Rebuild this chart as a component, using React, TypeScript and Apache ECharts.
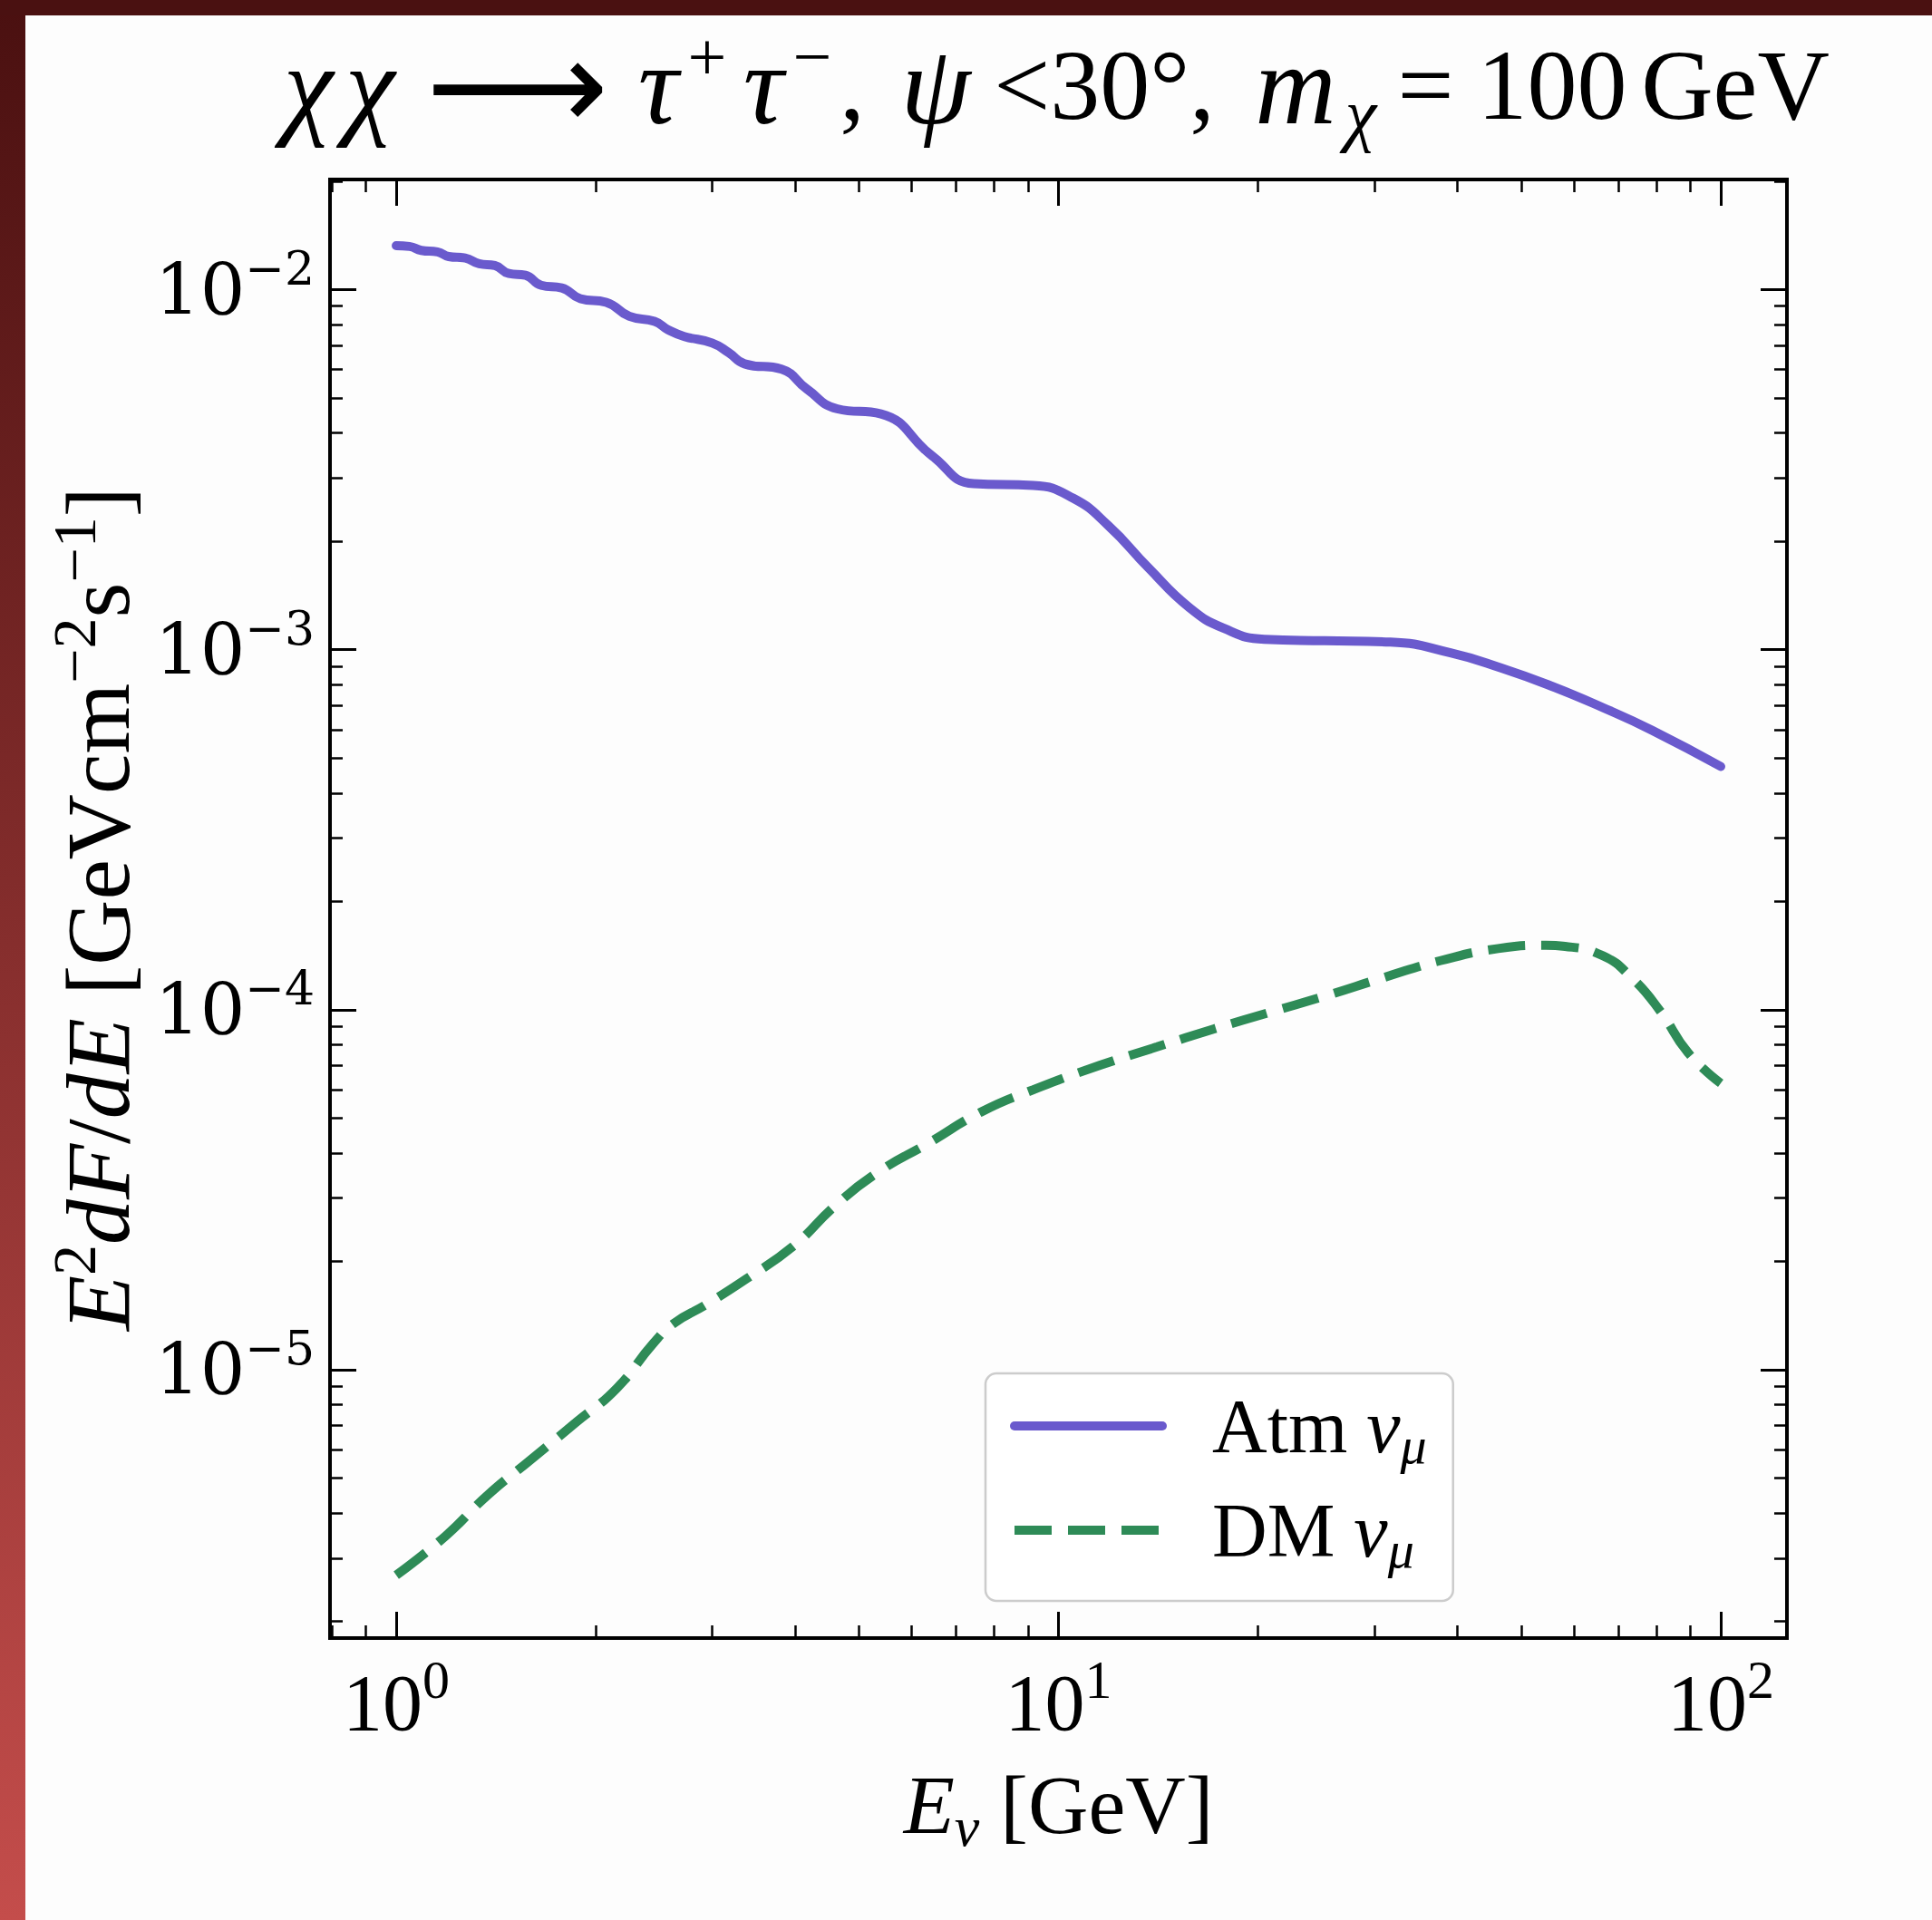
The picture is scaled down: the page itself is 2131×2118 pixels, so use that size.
import React, { useEffect, useRef } from "react";
import * as echarts from "echarts";

// Atmospheric muon-neutrino background, E^2 dF/dE [GeV cm^-2 s^-1]
const atmEnergy = [1.0, 1.047, 1.091, 1.154, 1.2, 1.271, 1.334, 1.409, 1.479, 1.567, 1.656, 1.778, 1.897, 2.075, 2.249, 2.455, 2.576, 2.723, 2.999, 3.177, 3.357, 3.819, 4.169, 4.635, 5.395, 6.442, 7.447, 9.162, 10.52, 11.89, 13.68, 15.74, 17.78, 20.46, 25.23, 31.7, 39.08, 46.67, 55.46, 66.22, 78.7, 100];
const atmFlux = [0.013243, 0.013183, 0.012853, 0.012735, 0.012359, 0.012246, 0.011803, 0.011668, 0.011092, 0.010965, 0.01028, 0.010116, 0.009441, 0.009226, 0.008433, 0.008166, 0.007727, 0.007413, 0.007112, 0.006683, 0.006223, 0.006012, 0.005297, 0.004667, 0.004519, 0.003459, 0.002891, 0.002858, 0.002636, 0.002213, 0.001687, 0.001312, 0.001146, 0.001069, 0.001059, 0.00105, 0.00098, 0.000889, 0.000793, 0.000692, 0.000598, 0.000474];

// Dark-matter signal, chi chi -> tau+ tau-, m_chi = 100 GeV
const dmEnergy = [1.0, 1.186, 1.371, 1.585, 1.866, 2.153, 2.443, 2.63, 2.931, 3.388, 3.981, 4.603, 5.321, 6.383, 7.638, 9.162, 11.56, 14.09, 17.18, 20.94, 25.47, 31.05, 37.84, 46.13, 54.45, 58.21, 66.37, 73.28, 80.91, 89.33, 100];
const dmFlux = [2.69e-6, 3.45e-6, 4.47e-6, 5.57e-6, 7.13e-6, 8.89e-6, 1.183e-5, 1.349e-5, 1.514e-5, 1.795e-5, 2.208e-5, 2.858e-5, 3.524e-5, 4.276e-5, 5.2e-5, 5.998e-5, 7.015e-5, 7.889e-5, 8.851e-5, 9.863e-5, 1.0965e-4, 1.2303e-4, 1.3709e-4, 1.4791e-4, 1.5101e-4, 1.4997e-4, 1.4125e-4, 1.2303e-4, 9.954e-5, 7.586e-5, 6.252e-5];

const seriesNames = ["Atm \u03bd\u03bc", "DM \u03bd\u03bc"];
const legendPrefixes = ["Atm", "DM"];
const xMajorTicks = [1, 10, 100];
const yMajorTicks = [1e-5, 1e-4, 1e-3, 1e-2];

const SERIF = "'Liberation Serif', 'DejaVu Serif', serif";
const WIDE_SERIF = "'DejaVu Serif', 'Liberation Serif', serif";
const INK = "#000000";
const ATM_COLOR = "#6a5acd";
const DM_COLOR = "#2e8b57";

const X_MIN = Math.pow(10, -0.1);
const X_MAX = Math.pow(10, 2.1);
const Y_MIN = Math.pow(10, -5.745);
const Y_MAX = Math.pow(10, -1.694);

// 2..9 x 10^n inside [lo, hi]
function minorLogTicks(lo: number, hi: number): number[] {
  const out: number[] = [];
  for (let e = Math.floor(Math.log10(lo)); e <= Math.ceil(Math.log10(hi)); e++) {
    for (let k = 2; k <= 9; k++) {
      const v = k * Math.pow(10, e);
      if (v >= lo && v <= hi) out.push(v);
    }
  }
  return out;
}

const powLabel = (v: number) => {
  const p = Math.round(Math.log10(v));
  return `{b|10}{e|${p < 0 ? "\u2212" + -p : p}}`;
};

const xTickRich = {
  b: { fontFamily: SERIF, fontSize: 88, lineHeight: 110, color: INK },
  e: { fontFamily: SERIF, fontSize: 60, lineHeight: 80, verticalAlign: "top", color: INK },
};

const yTickRich = {
  b: { fontFamily: WIDE_SERIF, fontSize: 78, lineHeight: 100, color: INK },
  e: { fontFamily: WIDE_SERIF, fontSize: 52, lineHeight: 66, verticalAlign: "top", color: INK },
};

const xNameRich = {
  i: { fontFamily: SERIF, fontStyle: "italic", fontSize: 92, lineHeight: 110, color: INK },
  r: { fontFamily: SERIF, fontSize: 92, lineHeight: 110, color: INK },
  sub: { fontFamily: SERIF, fontStyle: "italic", fontSize: 62, lineHeight: 40, verticalAlign: "bottom", color: INK },
};

const yNameRich = {
  i: { fontFamily: SERIF, fontStyle: "italic", fontSize: 100, lineHeight: 120, color: INK },
  r: { fontFamily: SERIF, fontSize: 100, lineHeight: 120, color: INK },
  sup: { fontFamily: SERIF, fontSize: 68, lineHeight: 78, verticalAlign: "top", color: INK },
};

// Title pieces: [text, style, box width]
type Piece = [string, string, number];
const titlePieces: Piece[] = [
  ["\u03c7", "i", 68],
  ["\u03c7", "i", 68],
  [" ", "r", 47],
  ["\u27f6", "a", 163],
  [" ", "r", 43],
  ["\u03c4", "i", 62],
  ["+", "sup", 46],
  [" ", "r", 8],
  ["\u03c4", "i", 62],
  ["\u2212", "sup", 46],
  [" ", "r", 8],
  [",", "r", 26],
  [" ", "r", 40],
  ["\u03c8", "i", 78],
  [" ", "r", 22],
  ["<30\u00b0,", "r", 250],
  [" ", "r", 40],
  ["m", "i", 92],
  ["\u03c7", "sub", 52],
  [" ", "r", 8],
  ["=", "r", 75],
  [" ", "r", 22],
  ["100", "r", 160],
  [" ", "r", 22],
  ["GeV", "r", 200],
];

const titleStyles: Record<string, any> = {
  i: { fontFamily: SERIF, fontStyle: "italic", fontSize: 124, lineHeight: 140, fill: INK },
  r: { fontFamily: SERIF, fontSize: 110, lineHeight: 140, fill: INK },
  a: { fontFamily: "'DejaVu Sans', sans-serif", fontSize: 140, lineHeight: 140, fill: INK },
  sup: { fontFamily: SERIF, fontSize: 76, lineHeight: 84, verticalAlign: "top", fill: INK },
  sub: { fontFamily: SERIF, fontStyle: "italic", fontSize: 78, lineHeight: 26, verticalAlign: "bottom", fill: INK },
};

const titleText = titlePieces.map((p, k) => `{t${k}|${p[0]}}`).join("");
const titleRich: Record<string, any> = {};
titlePieces.forEach((p, k) => {
  titleRich[`t${k}`] = { ...titleStyles[p[1]], width: p[2], align: "center" };
});

function frameAxis(kind: "x" | "y", position: string, major: boolean, extra: any = {}) {
  const lo = kind === "x" ? X_MIN : Y_MIN;
  const hi = kind === "x" ? X_MAX : Y_MAX;
  const ticks = major ? (kind === "x" ? xMajorTicks : yMajorTicks) : minorLogTicks(lo, hi);
  return {
    type: "log",
    gridIndex: 0,
    position,
    min: lo,
    max: hi,
    axisLine: { show: major, onZero: false, lineStyle: { color: INK, width: 4, cap: "square" } },
    axisTick: {
      show: true,
      inside: true,
      length: major ? 29 : 14,
      customValues: ticks,
      lineStyle: { color: INK, width: major ? 3 : 2.5 },
    },
    axisLabel: { show: false },
    splitLine: { show: false },
    minorTick: { show: false },
    minorSplitLine: { show: false },
    ...extra,
  };
}

const option: any = {
  animation: false,
  backgroundColor: "#fdfdfd",
  grid: {
    left: 364,
    top: 198,
    width: 1607,
    height: 1609,
    containLabel: false,
    outerBoundsMode: "none",
  },
  xAxis: [
    frameAxis("x", "bottom", true, {
      axisLabel: {
        show: true,
        customValues: xMajorTicks,
        formatter: powLabel,
        margin: 16,
        rich: xTickRich,
      },
      name: "{i|E}{sub|\u03bd}{r| [GeV]}",
      nameLocation: "middle",
      nameGap: 129,
      nameTextStyle: { rich: xNameRich },
    }),
    frameAxis("x", "bottom", false),
    frameAxis("x", "top", true),
    frameAxis("x", "top", false),
  ],
  yAxis: [
    frameAxis("y", "left", true, {
      axisLabel: {
        show: true,
        customValues: yMajorTicks,
        formatter: powLabel,
        margin: 17,
        rich: yTickRich,
      },
      name: "{i|E}{sup|2}{i|dF}{r|/}{i|dE}{r| [GeVcm}{sup|\u22122}{r|s}{sup|\u22121}{r|]}",
      nameLocation: "middle",
      nameGap: 196,
      nameTextStyle: { rich: yNameRich },
    }),
    frameAxis("y", "left", false),
    frameAxis("y", "right", true),
    frameAxis("y", "right", false),
  ],
  legend: {
    orient: "vertical",
    left: 1087,
    top: 1515,
    padding: [16, 29, 28, 27],
    itemGap: 23,
    itemWidth: 163,
    itemHeight: 14,
    selectedMode: false,
    backgroundColor: "rgba(255,255,255,0.8)",
    borderColor: "#cccccc",
    borderWidth: 2.5,
    borderRadius: 12,
    itemStyle: { opacity: 0 },
    lineStyle: { width: 10 },
    data: seriesNames,
    formatter: (name: string) => {
      const idx = seriesNames.indexOf(name);
      return `{sp| }{r|${legendPrefixes[idx]} }{i|\u03bd}{sub|\u03bc}`;
    },
    textStyle: {
      rich: {
        sp: { width: 50, fontSize: 20 },
        r: { fontFamily: SERIF, fontSize: 84, lineHeight: 100, color: INK },
        i: { fontFamily: SERIF, fontStyle: "italic", fontSize: 84, lineHeight: 100, color: INK },
        sub: { fontFamily: SERIF, fontStyle: "italic", fontSize: 58, lineHeight: 36, verticalAlign: "bottom", color: INK },
      },
    },
  },
  graphic: [
    {
      type: "rect",
      shape: { x: 0, y: 0, width: 28, height: 2118 },
      style: {
        fill: {
          type: "linear",
          x: 0,
          y: 0,
          x2: 0,
          y2: 1,
          colorStops: [
            { offset: 0, color: "#4a1010" },
            { offset: 1, color: "#c44d4b" },
          ],
        },
      },
      silent: true,
    },
    {
      type: "rect",
      shape: { x: 0, y: 0, width: 2131, height: 17 },
      style: { fill: "#4a1111" },
      silent: true,
    },
    {
      type: "text",
      x: 306,
      y: 24,
      silent: true,
      style: {
        text: titleText,
        align: "left",
        verticalAlign: "top",
        rich: titleRich,
      },
    },
  ],
  series: [
    {
      name: seriesNames[0],
      type: "line",
      xAxisIndex: 0,
      yAxisIndex: 0,
      data: atmEnergy.map((e, i) => [e, atmFlux[i]]),
      symbol: "none",
      showSymbol: false,
      smooth: 0.5,
      lineStyle: { color: ATM_COLOR, width: 10, cap: "round", join: "round" },
      itemStyle: { color: ATM_COLOR },
      z: 3,
    },
    {
      name: seriesNames[1],
      type: "line",
      xAxisIndex: 0,
      yAxisIndex: 0,
      data: dmEnergy.map((e, i) => [e, dmFlux[i]]),
      symbol: "none",
      showSymbol: false,
      smooth: 0.5,
      lineStyle: { color: DM_COLOR, width: 10, type: [41, 18], cap: "butt" },
      itemStyle: { color: DM_COLOR },
      z: 3,
    },
  ],
};

export default function App() {
  const ref = useRef<HTMLDivElement>(null);
  useEffect(() => {
    const chart = echarts.init(ref.current!, null, { renderer: "svg" });
    chart.setOption(option);
    return () => chart.dispose();
  }, []);
  return (
    <div
      ref={ref}
      style={{ position: "absolute", left: 0, top: 0, width: 2131, height: 2118 }}
    />
  );
}
